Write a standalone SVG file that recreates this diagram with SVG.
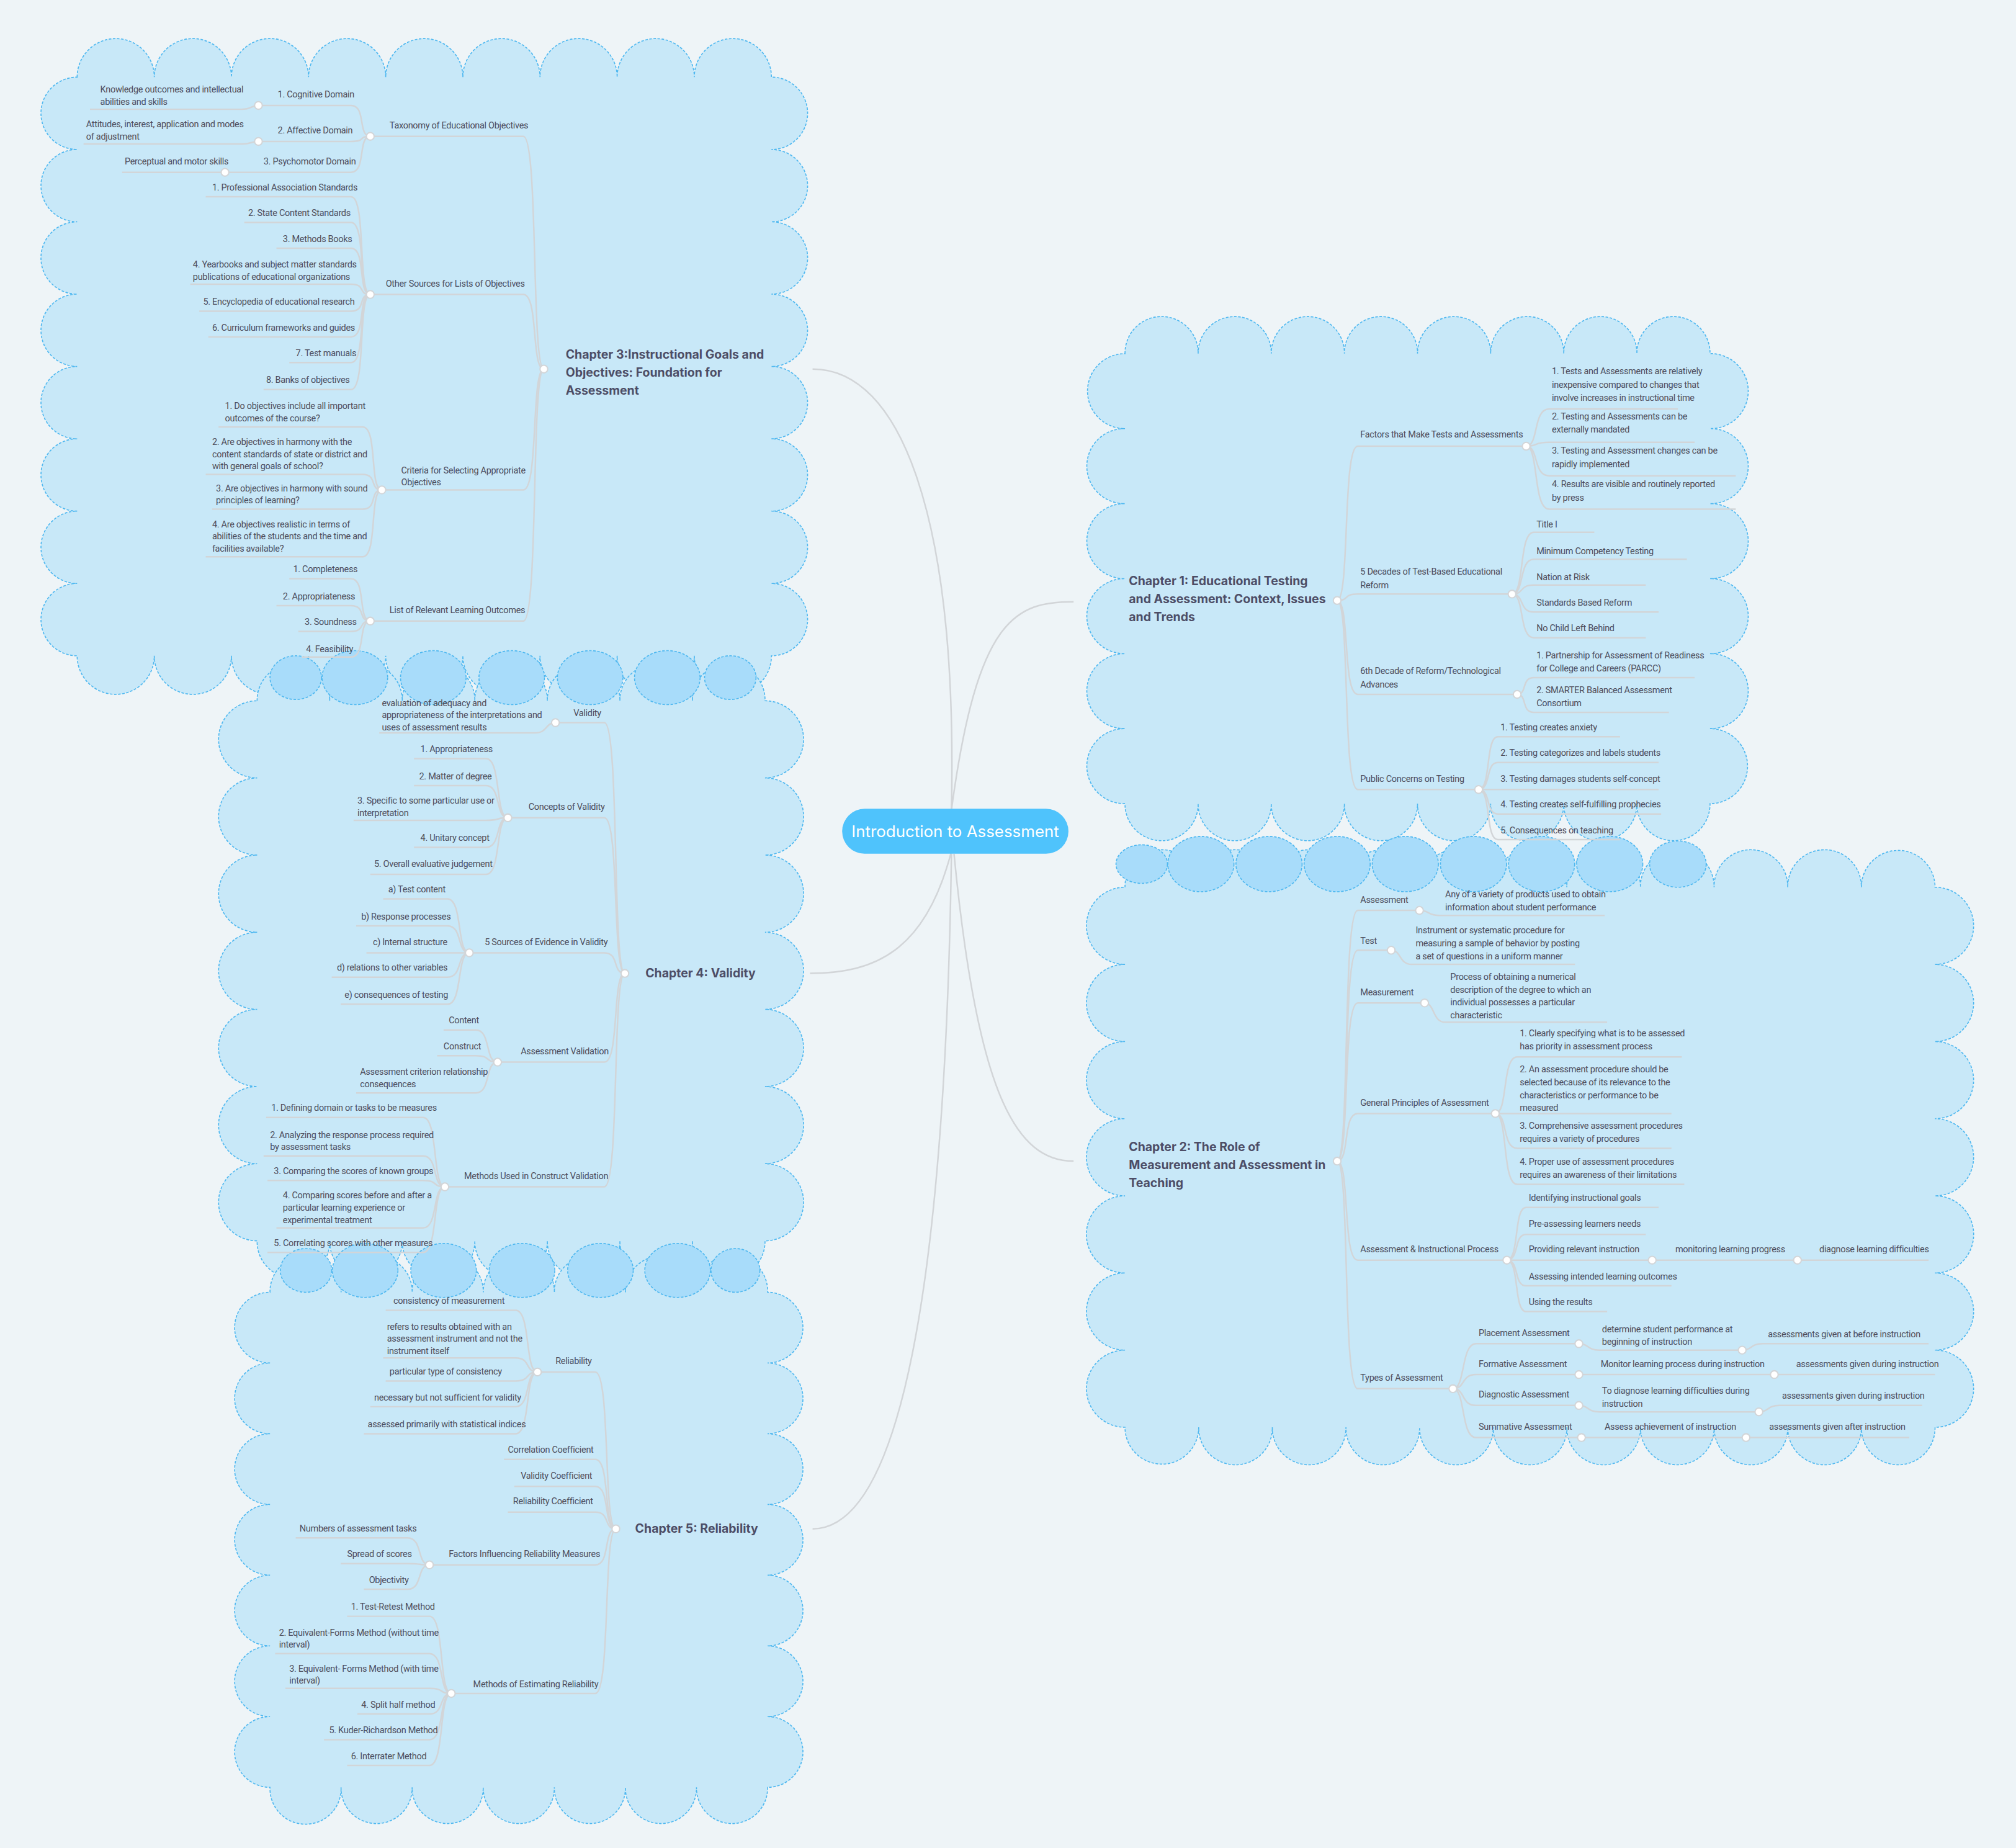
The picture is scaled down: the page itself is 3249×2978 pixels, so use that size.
<svg xmlns="http://www.w3.org/2000/svg" width="3249" height="2978" viewBox="0 0 3249 2978">
<style>
.cl{fill:#c8e8f8;stroke:#4fb8f0;stroke-width:0.8;stroke-dasharray:2 1.2}
.dk{fill:#a8dcfa;stroke:#4fb8f0;stroke-width:0.8;stroke-dasharray:2 1.2}
.c{fill:none;stroke:#d2d5d8;stroke-width:1.2}
.d{fill:#fff;stroke:#d2d5d8;stroke-width:1}
text{font-family:"Roboto","Liberation Sans",sans-serif;font-size:7px;letter-spacing:-0.15px;fill:#4d4d5c}
.h{font-family:"Inter","Liberation Sans",sans-serif;font-size:9.4px;letter-spacing:0;font-weight:bold;fill:#4d4d66}
.r{font-family:"Inter","Liberation Sans",sans-serif;font-size:12.5px;letter-spacing:0;fill:#fff}
</style>
<rect width="3249" height="2978" fill="#eef4f7"/>
<g transform="scale(2.0721)">
<g id="clouds">
<path class="cl" d="M60,60 a30,30 0 1 1 60,0 a30,30 0 1 1 60,0 a30,30 0 1 1 60,0 a30,30 0 1 1 60,0 a30,30 0 1 1 60,0 a30,30 0 1 1 60,0 a30,30 0 1 1 60,0 a30,30 0 1 1 60,0 a30,30 0 1 1 60,0 a28.125,28.125 0 1 1 0,56.25 a28.125,28.125 0 1 1 0,56.25 a28.125,28.125 0 1 1 0,56.25 a28.125,28.125 0 1 1 0,56.25 a28.125,28.125 0 1 1 0,56.25 a28.125,28.125 0 1 1 0,56.25 a28.125,28.125 0 1 1 0,56.25 a28.125,28.125 0 1 1 0,56.25 a30,30 0 1 1 -60,0 a30,30 0 1 1 -60,0 a30,30 0 1 1 -60,0 a30,30 0 1 1 -60,0 a30,30 0 1 1 -60,0 a30,30 0 1 1 -60,0 a30,30 0 1 1 -60,0 a30,30 0 1 1 -60,0 a30,30 0 1 1 -60,0 a28.125,28.125 0 1 1 0,-56.25 a28.125,28.125 0 1 1 0,-56.25 a28.125,28.125 0 1 1 0,-56.25 a28.125,28.125 0 1 1 0,-56.25 a28.125,28.125 0 1 1 0,-56.25 a28.125,28.125 0 1 1 0,-56.25 a28.125,28.125 0 1 1 0,-56.25 a28.125,28.125 0 1 1 0,-56.25z"/>
<path class="cl" d="M875,275 a28.44,28.44 0 1 1 56.875,0 a28.44,28.44 0 1 1 56.875,0 a28.44,28.44 0 1 1 56.875,0 a28.44,28.44 0 1 1 56.875,0 a28.44,28.44 0 1 1 56.875,0 a28.44,28.44 0 1 1 56.875,0 a28.44,28.44 0 1 1 56.875,0 a28.44,28.44 0 1 1 56.875,0 a29.17,29.17 0 1 1 0,58.33 a29.17,29.17 0 1 1 0,58.33 a29.17,29.17 0 1 1 0,58.33 a29.17,29.17 0 1 1 0,58.33 a29.17,29.17 0 1 1 0,58.33 a29.17,29.17 0 1 1 0,58.35 a28.44,28.44 0 1 1 -56.875,0 a28.44,28.44 0 1 1 -56.875,0 a28.44,28.44 0 1 1 -56.875,0 a28.44,28.44 0 1 1 -56.875,0 a28.44,28.44 0 1 1 -56.875,0 a28.44,28.44 0 1 1 -56.875,0 a28.44,28.44 0 1 1 -56.875,0 a28.44,28.44 0 1 1 -56.875,0 a29.17,29.17 0 1 1 0,-58.33 a29.17,29.17 0 1 1 0,-58.33 a29.17,29.17 0 1 1 0,-58.33 a29.17,29.17 0 1 1 0,-58.33 a29.17,29.17 0 1 1 0,-58.33 a29.17,29.17 0 1 1 0,-58.35z"/>
<path class="cl" d="M200,545 a28.22,28.22 0 1 1 56.43,0 a28.22,28.22 0 1 1 56.43,0 a28.22,28.22 0 1 1 56.43,0 a28.22,28.22 0 1 1 56.43,0 a28.22,28.22 0 1 1 56.43,0 a28.22,28.22 0 1 1 56.43,0 a28.22,28.22 0 1 1 56.42,0 a30,30 0 1 1 0,60 a30,30 0 1 1 0,60 a30,30 0 1 1 0,60 a30,30 0 1 1 0,60 a30,30 0 1 1 0,60 a30,30 0 1 1 0,60 a30,30 0 1 1 0,60 a28.22,28.22 0 1 1 -56.43,0 a28.22,28.22 0 1 1 -56.43,0 a28.22,28.22 0 1 1 -56.43,0 a28.22,28.22 0 1 1 -56.43,0 a28.22,28.22 0 1 1 -56.43,0 a28.22,28.22 0 1 1 -56.43,0 a28.22,28.22 0 1 1 -56.42,0 a30,30 0 1 1 0,-60 a30,30 0 1 1 0,-60 a30,30 0 1 1 0,-60 a30,30 0 1 1 0,-60 a30,30 0 1 1 0,-60 a30,30 0 1 1 0,-60 a30,30 0 1 1 0,-60z"/>
<path class="cl" d="M210,1005 a27.65,27.65 0 1 1 55.29,0 a27.65,27.65 0 1 1 55.29,0 a27.65,27.65 0 1 1 55.29,0 a27.65,27.65 0 1 1 55.29,0 a27.65,27.65 0 1 1 55.29,0 a27.65,27.65 0 1 1 55.29,0 a27.65,27.65 0 1 1 55.26,0 a27.5,27.5 0 1 1 0,55 a27.5,27.5 0 1 1 0,55 a27.5,27.5 0 1 1 0,55 a27.5,27.5 0 1 1 0,55 a27.5,27.5 0 1 1 0,55 a27.5,27.5 0 1 1 0,55 a27.5,27.5 0 1 1 0,55 a27.65,27.65 0 1 1 -55.29,0 a27.65,27.65 0 1 1 -55.29,0 a27.65,27.65 0 1 1 -55.29,0 a27.65,27.65 0 1 1 -55.29,0 a27.65,27.65 0 1 1 -55.29,0 a27.65,27.65 0 1 1 -55.29,0 a27.65,27.65 0 1 1 -55.26,0 a27.5,27.5 0 1 1 0,-55 a27.5,27.5 0 1 1 0,-55 a27.5,27.5 0 1 1 0,-55 a27.5,27.5 0 1 1 0,-55 a27.5,27.5 0 1 1 0,-55 a27.5,27.5 0 1 1 0,-55 a27.5,27.5 0 1 1 0,-55z"/>
<path class="cl" d="M875,690 a28.64,28.64 0 1 1 57.27,0 a28.64,28.64 0 1 1 57.27,0 a28.64,28.64 0 1 1 57.27,0 a28.64,28.64 0 1 1 57.27,0 a28.64,28.64 0 1 1 57.27,0 a28.64,28.64 0 1 1 57.27,0 a28.64,28.64 0 1 1 57.27,0 a28.64,28.64 0 1 1 57.27,0 a28.64,28.64 0 1 1 57.27,0 a28.64,28.64 0 1 1 57.27,0 a28.65,28.65 0 1 1 57.3,0 a30,30 0 1 1 0,60 a30,30 0 1 1 0,60 a30,30 0 1 1 0,60 a30,30 0 1 1 0,60 a30,30 0 1 1 0,60 a30,30 0 1 1 0,60 a30,30 0 1 1 0,60 a28.64,28.64 0 1 1 -57.27,0 a28.64,28.64 0 1 1 -57.27,0 a28.64,28.64 0 1 1 -57.27,0 a28.64,28.64 0 1 1 -57.27,0 a28.64,28.64 0 1 1 -57.27,0 a28.64,28.64 0 1 1 -57.27,0 a28.64,28.64 0 1 1 -57.27,0 a28.64,28.64 0 1 1 -57.27,0 a28.64,28.64 0 1 1 -57.27,0 a28.64,28.64 0 1 1 -57.27,0 a28.65,28.65 0 1 1 -57.3,0 a30,30 0 1 1 0,-60 a30,30 0 1 1 0,-60 a30,30 0 1 1 0,-60 a30,30 0 1 1 0,-60 a30,30 0 1 1 0,-60 a30,30 0 1 1 0,-60 a30,30 0 1 1 0,-60z"/>
<g class="dk">
<ellipse cx="230" cy="527" rx="20" ry="17"/><ellipse cx="276" cy="527" rx="25.5" ry="21"/><ellipse cx="337" cy="527" rx="25.5" ry="21"/><ellipse cx="398" cy="527" rx="25.5" ry="21"/><ellipse cx="459" cy="527" rx="25.5" ry="21"/><ellipse cx="519" cy="527" rx="25.5" ry="21"/><ellipse cx="568" cy="527" rx="20" ry="17"/>
<ellipse cx="238" cy="988" rx="20" ry="17"/><ellipse cx="284" cy="988" rx="25.5" ry="21"/><ellipse cx="345" cy="988" rx="25.5" ry="21"/><ellipse cx="406" cy="988" rx="25.5" ry="21"/><ellipse cx="467" cy="988" rx="25.5" ry="21"/><ellipse cx="527" cy="988" rx="25.5" ry="21"/><ellipse cx="572" cy="988" rx="19" ry="17"/>
<ellipse cx="888" cy="672" rx="20" ry="15"/><ellipse cx="934" cy="672" rx="25.7" ry="21.5"/><ellipse cx="987" cy="672" rx="25.7" ry="21.5"/><ellipse cx="1040" cy="672" rx="25.7" ry="21.5"/><ellipse cx="1093" cy="672" rx="25.7" ry="21.5"/><ellipse cx="1146" cy="672" rx="25.7" ry="21.5"/><ellipse cx="1199" cy="672" rx="25.7" ry="21.5"/><ellipse cx="1252" cy="672" rx="25.7" ry="21.5"/><ellipse cx="1305" cy="672" rx="22" ry="18"/>
</g>
</g>
<g id="connectors">
<path class="c" d="M740,630 C745,400 700,287 632,287"/>
<path class="c" d="M740,630 C760,480 790,468 835,468"/>
<path class="c" d="M740,662 C720,740 680,757 630,757"/>
<path class="c" d="M740,664 C735,1000 700,1189 632,1189"/>
<path class="c" d="M742,664 C760,850 790,903 835,903"/>
<path class="c" d="M1040,467 C1050,467 1044,347 1056,347 H1187 M1040,467 C1050,467 1044,462 1056,462 H1176 M1040,467 C1050,467 1044,540 1056,540 H1180 M1040,467 C1050,467 1044,614 1056,614 H1150"/>
<path class="c" d="M1187,347 C1197,347 1192,318 1205,318 H1305 M1187,347 C1197,347 1192,344 1205,344 H1318 M1187,347 C1197,347 1192,370 1205,370 H1350 M1187,347 C1197,347 1192,396 1205,396 H1350"/>
<path class="c" d="M1176,462 C1186,462 1181,414 1193,414 H1240 M1176,462 C1186,462 1181,435 1193,435 H1312 M1176,462 C1186,462 1181,455 1193,455 H1280 M1176,462 C1186,462 1181,476 1193,476 H1290 M1176,462 C1186,462 1181,496 1193,496 H1280"/>
<path class="c" d="M1180,540 C1188,540 1183,527 1193,527 H1318 M1180,540 C1188,540 1183,554 1193,554 H1298"/>
<path class="c" d="M1150,614 C1160,614 1155,573 1165,573 H1260 M1150,614 C1160,614 1155,593 1165,593 H1290 M1150,614 H1290 M1150,614 C1160,614 1155,633 1165,633 H1292 M1150,614 C1160,614 1155,653 1165,653 H1260"/>
<path class="c" d="M1040,903 C1050,903 1044,708 1056,708 H1104 M1040,903 C1050,903 1044,739 1056,739 H1082 M1040,903 C1050,903 1044,780 1056,780 H1108 M1040,903 C1050,903 1044,866 1056,866 H1163 M1040,903 C1050,903 1044,980 1056,980 H1172 M1040,903 C1050,903 1044,1080 1056,1080 H1130"/>
<path class="c" d="M1104,708 C1112,708 1110,712 1120,712 H1248 M1082,739 C1090,739 1088,750 1098,750 H1225 M1108,780 C1116,780 1114,795 1124,795 H1250"/>
<path class="c" d="M1163,866 C1173,866 1168,822 1180,822 H1308 M1163,866 H1300 M1163,866 C1173,866 1168,893 1180,893 H1300 M1163,866 C1173,866 1168,921 1180,921 H1310"/>
<path class="c" d="M1172,980 C1182,980 1177,939 1187,939 H1290 M1172,980 C1182,980 1177,960 1187,960 H1280 M1172,980 H1285 H1398 H1500 M1172,980 C1182,980 1177,1000 1187,1000 H1300 M1172,980 C1182,980 1177,1020 1187,1020 H1250"/>
<path class="c" d="M1130,1080 C1140,1080 1136,1045 1148,1045 H1228 M1130,1080 C1140,1080 1136,1069 1148,1069 H1228 M1130,1080 C1140,1080 1136,1093 1148,1093 H1228 M1130,1080 C1140,1080 1136,1118 1148,1118 H1230"/>
<path class="c" d="M1228,1045 C1236,1045 1234,1050 1244,1050 H1355 M1355,1050 C1363,1050 1361,1045 1371,1045 H1500 M1228,1069 H1380 H1505 M1228,1093 C1236,1093 1234,1098 1244,1098 H1368 M1368,1098 C1376,1098 1374,1093 1384,1093 H1495 M1230,1118 H1358 H1485"/>
<path class="c" d="M423,287 C413,287 419,106 407,106 H288 M423,287 C413,287 419,229 407,229 H288 M423,287 C413,287 419,381 407,381 H297 M423,287 C413,287 419,483 407,483 H288"/>
<path class="c" d="M288,106 C278,106 285,82 273,82 H201 M288,106 C278,106 285,110 273,110 H201 M288,106 C278,106 285,134 273,134 H175 M201,82 C195,82 196,85 188,85 H70 M201,110 C195,110 196,112 188,112 H65 M175,134 H95"/>
<path class="c" d="M288,229 C278,229 285,153 273,153 H160 M288,229 C278,229 285,173 273,173 H190 M288,229 C278,229 285,193 273,193 H215 M288,229 C278,229 285,221 273,221 H148 M288,229 C278,229 285,242 273,242 H155 M288,229 C278,229 285,262 273,262 H162 M288,229 C278,229 285,282 273,282 H225 M288,229 C278,229 285,303 273,303 H205"/>
<path class="c" d="M297,381 C287,381 294,332 282,332 H170 M297,381 C287,381 294,369 282,369 H160 M297,381 C287,381 294,396 282,396 H165 M297,381 C287,381 294,433 282,433 H160"/>
<path class="c" d="M288,483 C278,483 285,450 273,450 H225 M288,483 C278,483 285,471 273,471 H215 M288,483 C278,483 285,491 273,491 H232 M288,483 C278,483 285,511 273,511 H235"/>
<path class="c" d="M486,757 C476,757 482,562 470,562 H432 M486,757 C476,757 482,636 470,636 H395 M486,757 C476,757 482,741 470,741 H365 M486,757 C476,757 482,826 470,826 H387 M486,757 C476,757 482,923 470,923 H346"/>
<path class="c" d="M432,562 C424,562 426,570 416,570 H295"/>
<path class="c" d="M395,636 C385,636 390,590 378,590 H322 M395,636 C385,636 390,611 378,611 H322 M395,636 C385,636 390,638 378,638 H275 M395,636 C385,636 390,659 378,659 H322 M395,636 C385,636 390,680 378,680 H288"/>
<path class="c" d="M365,741 C355,741 360,699 348,699 H298 M365,741 C355,741 360,720 348,720 H277 M365,741 H285 M365,741 C355,741 360,760 348,760 H258 M365,741 C355,741 360,781 348,781 H265"/>
<path class="c" d="M387,826 C377,826 382,801 370,801 H345 M387,826 C377,826 382,821 370,821 H340 M387,826 C377,826 382,850 370,850 H277"/>
<path class="c" d="M346,923 C336,923 341,869 329,869 H207 M346,923 C336,923 341,899 329,899 H205 M346,923 C336,923 341,918 329,918 H208 M346,923 C336,923 341,955 329,955 H215 M346,923 C336,923 341,974 329,974 H208"/>
<path class="c" d="M479,1189 C469,1189 475,1067 463,1067 H418 M479,1189 C469,1189 475,1135 463,1135 H392 M479,1189 C469,1189 475,1156 463,1156 H400 M479,1189 C469,1189 475,1176 463,1176 H395 M479,1189 C469,1189 475,1217 463,1217 H334 M479,1189 C469,1189 475,1317 463,1317 H351"/>
<path class="c" d="M418,1067 C408,1067 413,1019 401,1019 H300 M418,1067 C408,1067 413,1056 401,1056 H298 M418,1067 C408,1067 413,1074 401,1074 H300 M418,1067 C408,1067 413,1094 401,1094 H288 M418,1067 C408,1067 413,1115 401,1115 H283"/>
<path class="c" d="M334,1217 C324,1217 329,1196 317,1196 H230 M334,1217 C324,1217 329,1216 317,1216 H265 M334,1217 C324,1217 329,1236 317,1236 H283"/>
<path class="c" d="M351,1317 C341,1317 346,1257 334,1257 H270 M351,1317 C341,1317 346,1286 334,1286 H214 M351,1317 C341,1317 346,1313 334,1313 H222 M351,1317 C341,1317 346,1333 334,1333 H278 M351,1317 C341,1317 346,1353 334,1353 H252 M351,1317 C341,1317 346,1373 334,1373 H270"/>
</g>
<g id="dots">
<circle class="d" cx="1040" cy="467" r="3"/><circle class="d" cx="1187" cy="347" r="3"/><circle class="d" cx="1176" cy="462" r="3"/><circle class="d" cx="1180" cy="540" r="3"/><circle class="d" cx="1150" cy="614" r="3"/>
<circle class="d" cx="1040" cy="903" r="3"/><circle class="d" cx="1104" cy="708" r="3"/><circle class="d" cx="1082" cy="739" r="3"/><circle class="d" cx="1108" cy="780" r="3"/><circle class="d" cx="1163" cy="866" r="3"/><circle class="d" cx="1172" cy="980" r="3"/><circle class="d" cx="1285" cy="980" r="3"/><circle class="d" cx="1398" cy="980" r="3"/><circle class="d" cx="1130" cy="1080" r="3"/><circle class="d" cx="1228" cy="1045" r="3"/><circle class="d" cx="1355" cy="1050" r="3"/><circle class="d" cx="1228" cy="1069" r="3"/><circle class="d" cx="1380" cy="1069" r="3"/><circle class="d" cx="1228" cy="1093" r="3"/><circle class="d" cx="1368" cy="1098" r="3"/><circle class="d" cx="1230" cy="1118" r="3"/><circle class="d" cx="1358" cy="1118" r="3"/>
<circle class="d" cx="423" cy="287" r="3"/><circle class="d" cx="288" cy="106" r="3"/><circle class="d" cx="201" cy="82" r="3"/><circle class="d" cx="201" cy="110" r="3"/><circle class="d" cx="175" cy="134" r="3"/><circle class="d" cx="288" cy="229" r="3"/><circle class="d" cx="297" cy="381" r="3"/><circle class="d" cx="288" cy="483" r="3"/>
<circle class="d" cx="486" cy="757" r="3"/><circle class="d" cx="432" cy="562" r="3"/><circle class="d" cx="395" cy="636" r="3"/><circle class="d" cx="365" cy="741" r="3"/><circle class="d" cx="387" cy="826" r="3"/><circle class="d" cx="346" cy="923" r="3"/>
<circle class="d" cx="479" cy="1189" r="3"/><circle class="d" cx="418" cy="1067" r="3"/><circle class="d" cx="334" cy="1217" r="3"/><circle class="d" cx="351" cy="1317" r="3"/>
</g>
<g id="root"><rect x="655" y="629" width="176" height="35" rx="17.5" fill="#4fc3fc"/><text class="r" x="743" y="651" text-anchor="middle">Introduction to Assessment</text></g>
<g id="ch1"><text class="h" x="878" y="455"><tspan x="878">Chapter 1: Educational Testing</tspan><tspan x="878" dy="14">and Assessment: Context, Issues</tspan><tspan x="878" dy="14">and Trends</tspan></text></g>
<g id="ch1-nodes">
<text x="1058" y="340">Factors that Make Tests and Assessments</text>
<text x="1207" y="291"><tspan x="1207">1. Tests and Assessments are relatively</tspan><tspan x="1207" dy="10.5">inexpensive compared to changes that</tspan><tspan x="1207" dy="10.5">involve increases in instructional time</tspan></text>
<text x="1207" y="326"><tspan x="1207">2. Testing and Assessments can be</tspan><tspan x="1207" dy="10.5">externally mandated</tspan></text>
<text x="1207" y="353"><tspan x="1207">3. Testing and Assessment changes can be</tspan><tspan x="1207" dy="10.5">rapidly implemented</tspan></text>
<text x="1207" y="379"><tspan x="1207">4. Results are visible and routinely reported</tspan><tspan x="1207" dy="10.5">by press</tspan></text>
<text x="1058" y="447"><tspan x="1058">5 Decades of Test-Based Educational</tspan><tspan x="1058" dy="10.5">Reform</tspan></text>
<text x="1195" y="410">Title I</text><text x="1195" y="431">Minimum Competency Testing</text><text x="1195" y="451">Nation at Risk</text><text x="1195" y="471">Standards Based Reform</text><text x="1195" y="491">No Child Left Behind</text>
<text x="1058" y="524"><tspan x="1058">6th Decade of Reform/Technological</tspan><tspan x="1058" dy="10.5">Advances</tspan></text>
<text x="1195" y="512"><tspan x="1195">1. Partnership for Assessment of Readiness</tspan><tspan x="1195" dy="10">for College and Careers (PARCC)</tspan></text>
<text x="1195" y="539"><tspan x="1195">2. SMARTER Balanced Assessment</tspan><tspan x="1195" dy="10">Consortium</tspan></text>
<text x="1058" y="608">Public Concerns on Testing</text>
<text x="1167" y="568">1. Testing creates anxiety</text><text x="1167" y="588">2. Testing categorizes and labels students</text><text x="1167" y="608">3. Testing damages students self-concept</text><text x="1167" y="628">4. Testing creates self-fulfilling prophecies</text><text x="1167" y="648">5. Consequences on teaching</text>
</g>
<g id="ch2"><text class="h" x="878" y="895"><tspan x="878">Chapter 2: The Role of</tspan><tspan x="878" dy="14">Measurement and Assessment in</tspan><tspan x="878" dy="14">Teaching</tspan></text></g>
<g id="ch2-nodes">
<text x="1058" y="702">Assessment</text>
<text x="1124" y="698"><tspan x="1124">Any of a variety of products used to obtain</tspan><tspan x="1124" dy="10">information about student performance</tspan></text>
<text x="1058" y="734">Test</text>
<text x="1101" y="726"><tspan x="1101">Instrument or systematic procedure for</tspan><tspan x="1101" dy="10">measuring a sample of behavior by posting</tspan><tspan x="1101" dy="10">a set of questions in a uniform manner</tspan></text>
<text x="1058" y="774">Measurement</text>
<text x="1128" y="762"><tspan x="1128">Process of obtaining a numerical</tspan><tspan x="1128" dy="10">description of the degree to which an</tspan><tspan x="1128" dy="10">individual possesses a particular</tspan><tspan x="1128" dy="10">characteristic</tspan></text>
<text x="1058" y="860">General Principles of Assessment</text>
<text x="1182" y="806"><tspan x="1182">1. Clearly specifying what is to be assessed</tspan><tspan x="1182" dy="10">has priority in assessment process</tspan></text>
<text x="1182" y="834"><tspan x="1182">2. An assessment procedure should be</tspan><tspan x="1182" dy="10">selected because of its relevance to the</tspan><tspan x="1182" dy="10">characteristics or performance to be</tspan><tspan x="1182" dy="10">measured</tspan></text>
<text x="1182" y="878"><tspan x="1182">3. Comprehensive assessment procedures</tspan><tspan x="1182" dy="10">requires a variety of procedures</tspan></text>
<text x="1182" y="906"><tspan x="1182">4. Proper use of assessment procedures</tspan><tspan x="1182" dy="10">requires an awareness of their limitations</tspan></text>
<text x="1058" y="974">Assessment &amp; Instructional Process</text>
<text x="1189" y="934">Identifying instructional goals</text><text x="1189" y="954">Pre-assessing learners needs</text><text x="1189" y="974">Providing relevant instruction</text><text x="1303" y="974">monitoring learning progress</text><text x="1415" y="974">diagnose learning difficulties</text><text x="1189" y="995">Assessing intended learning outcomes</text><text x="1189" y="1015">Using the results</text>
<text x="1058" y="1074">Types of Assessment</text>
<text x="1150" y="1039">Placement Assessment</text>
<text x="1246" y="1036"><tspan x="1246">determine student performance at</tspan><tspan x="1246" dy="10">beginning of instruction</tspan></text>
<text x="1375" y="1040">assessments given at before instruction</text>
<text x="1150" y="1063">Formative Assessment</text><text x="1245" y="1063">Monitor learning process during instruction</text><text x="1397" y="1063">assessments given during instruction</text>
<text x="1150" y="1087">Diagnostic Assessment</text>
<text x="1246" y="1084"><tspan x="1246">To diagnose learning difficulties during</tspan><tspan x="1246" dy="10">instruction</tspan></text>
<text x="1386" y="1088">assessments given during instruction</text>
<text x="1150" y="1112">Summative Assessment</text><text x="1248" y="1112">Assess achievement of instruction</text><text x="1376" y="1112">assessments given after instruction</text>
</g>
<g id="ch3"><text class="h" x="440" y="279"><tspan x="440">Chapter 3:Instructional Goals and</tspan><tspan x="440" dy="14">Objectives: Foundation for</tspan><tspan x="440" dy="14">Assessment</tspan></text></g>
<g id="ch3-nodes">
<text x="303" y="100">Taxonomy of Educational Objectives</text>
<text x="216" y="76">1. Cognitive Domain</text>
<text x="78" y="72"><tspan x="78">Knowledge outcomes and intellectual</tspan><tspan x="78" dy="9.5">abilities and skills</tspan></text>
<text x="216" y="104">2. Affective Domain</text>
<text x="67" y="99"><tspan x="67">Attitudes, interest, application and modes</tspan><tspan x="67" dy="9.5">of adjustment</tspan></text>
<text x="205" y="128">3. Psychomotor Domain</text><text x="97" y="128">Perceptual and motor skills</text>
<text x="300" y="223">Other Sources for Lists of Objectives</text>
<text x="165" y="148">1. Professional Association Standards</text><text x="193" y="168">2. State Content Standards</text><text x="220" y="188">3. Methods Books</text>
<text x="150" y="208"><tspan x="150">4. Yearbooks and subject matter standards</tspan><tspan x="150" dy="9.5">publications of educational organizations</tspan></text>
<text x="158" y="237">5. Encyclopedia of educational research</text><text x="165" y="257">6. Curriculum frameworks and guides</text><text x="230" y="277">7. Test manuals</text><text x="207" y="298">8. Banks of objectives</text>
<text x="312" y="368"><tspan x="312">Criteria for Selecting Appropriate</tspan><tspan x="312" dy="9.5">Objectives</tspan></text>
<text x="175" y="318"><tspan x="175">1. Do objectives include all important</tspan><tspan x="175" dy="9.5">outcomes of the course?</tspan></text>
<text x="165" y="346"><tspan x="165">2. Are objectives in harmony with the</tspan><tspan x="165" dy="9.5">content standards of state or district and</tspan><tspan x="165" dy="9.5">with general goals of school?</tspan></text>
<text x="168" y="382"><tspan x="168">3. Are objectives in harmony with sound</tspan><tspan x="168" dy="9.5">principles of learning?</tspan></text>
<text x="165" y="410"><tspan x="165">4. Are objectives realistic in terms of</tspan><tspan x="165" dy="9.5">abilities of the students and the time and</tspan><tspan x="165" dy="9.5">facilities available?</tspan></text>
<text x="303" y="477">List of Relevant Learning Outcomes</text>
<text x="228" y="445">1. Completeness</text><text x="220" y="466">2. Appropriateness</text><text x="237" y="486">3. Soundness</text><text x="238" y="507">4. Feasibility</text>
</g>
<g id="ch4"><text class="h" x="502" y="760">Chapter 4: Validity</text></g>
<g id="ch4-nodes">
<text x="446" y="557">Validity</text>
<text x="297" y="549"><tspan x="297">evaluation of adequacy and</tspan><tspan x="297" dy="9.5">appropriateness of the interpretations and</tspan><tspan x="297" dy="9.5">uses of assessment results</tspan></text>
<text x="411" y="630">Concepts of Validity</text>
<text x="327" y="585">1. Appropriateness</text><text x="326" y="606">2. Matter of degree</text>
<text x="278" y="625"><tspan x="278">3. Specific to some particular use or</tspan><tspan x="278" dy="9.5">interpretation</tspan></text>
<text x="327" y="654">4. Unitary concept</text><text x="291" y="674">5. Overall evaluative judgement</text>
<text x="377" y="735">5 Sources of Evidence in Validity</text>
<text x="302" y="694">a) Test content</text><text x="281" y="715">b) Response processes</text><text x="290" y="735">c) Internal structure</text><text x="262" y="755">d) relations to other variables</text><text x="268" y="776">e) consequences of testing</text>
<text x="405" y="820">Assessment Validation</text>
<text x="349" y="796">Content</text><text x="345" y="816">Construct</text>
<text x="280" y="836"><tspan x="280">Assessment criterion relationship</tspan><tspan x="280" dy="9.5">consequences</tspan></text>
<text x="361" y="917">Methods Used in Construct Validation</text>
<text x="211" y="864">1. Defining domain or tasks to be measures</text>
<text x="210" y="885"><tspan x="210">2. Analyzing the response process required</tspan><tspan x="210" dy="9.5">by assessment tasks</tspan></text>
<text x="213" y="913">3. Comparing the scores of known groups</text>
<text x="220" y="932"><tspan x="220">4. Comparing scores before and after a</tspan><tspan x="220" dy="9.5">particular learning experience or</tspan><tspan x="220" dy="9.5">experimental treatment</tspan></text>
<text x="213" y="969">5. Correlating scores with other measures</text>
</g>
<g id="ch5"><text class="h" x="494" y="1192">Chapter 5: Reliability</text></g>
<g id="ch5-nodes">
<text x="432" y="1061">Reliability</text>
<text x="306" y="1014">consistency of measurement</text>
<text x="301" y="1034"><tspan x="301">refers to results obtained with an</tspan><tspan x="301" dy="9.5">assessment instrument and not the</tspan><tspan x="301" dy="9.5">instrument itself</tspan></text>
<text x="303" y="1069">particular type of consistency</text><text x="291" y="1089">necessary but not sufficient for validity</text><text x="286" y="1110">assessed primarily with statistical indices</text>
<text x="395" y="1130">Correlation Coefficient</text><text x="405" y="1150">Validity Coefficient</text><text x="399" y="1170">Reliability Coefficient</text>
<text x="349" y="1211">Factors Influencing Reliability Measures</text>
<text x="233" y="1191">Numbers of assessment tasks</text><text x="270" y="1211">Spread of scores</text><text x="287" y="1231">Objectivity</text>
<text x="368" y="1312">Methods of Estimating Reliability</text>
<text x="273" y="1252">1. Test-Retest Method</text>
<text x="217" y="1272"><tspan x="217">2. Equivalent-Forms Method (without time</tspan><tspan x="217" dy="9.5">interval)</tspan></text>
<text x="225" y="1300"><tspan x="225">3. Equivalent- Forms Method (with time</tspan><tspan x="225" dy="9.5">interval)</tspan></text>
<text x="281" y="1328">4. Split half method</text><text x="256" y="1348">5. Kuder-Richardson Method</text><text x="273" y="1368">6. Interrater Method</text>
</g>
</g>
</svg>
